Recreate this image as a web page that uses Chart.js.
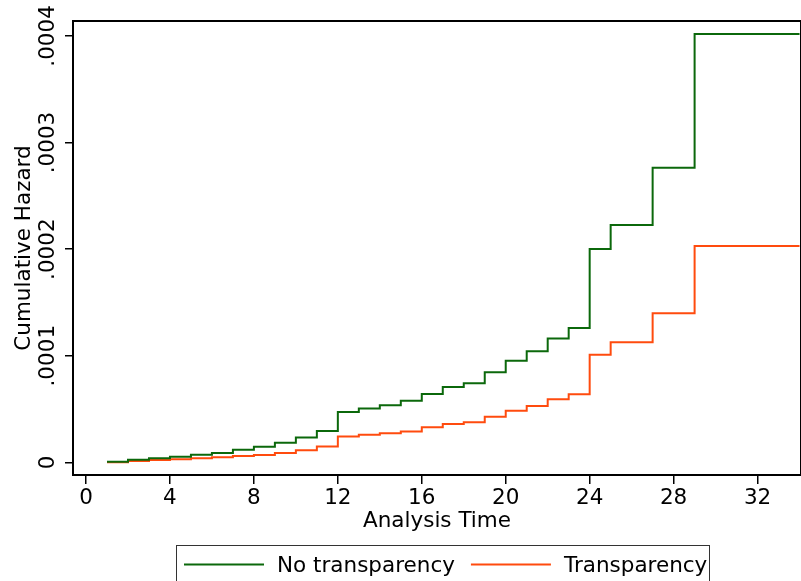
<!DOCTYPE html>
<html>
<head>
<meta charset="utf-8">
<script src="https://cdn.jsdelivr.net/npm/chart.js@4.4.1/dist/chart.umd.min.js"></script>
<style>
    html, body { margin: 0; padding: 0; background: #fff; }
    #wrap { width: 801px; height: 581px; }
</style>
</head>
<body>
<div id="wrap"><canvas id="hazardChart" width="801" height="581"></canvas></div>
<script>
// Nelson-Aalen cumulative hazard, step at each failure time
const times = [1, 2, 3, 4, 5, 6, 7, 8, 9, 10, 11, 12, 13, 14, 15, 16, 17, 18, 19, 20,
    21, 22, 23, 24, 25, 27, 29, 34];

const noTransparency = [0.0000005, 0.0000025, 0.0000037, 0.0000053, 0.0000071, 0.0000087,
    0.0000117, 0.0000146, 0.0000183, 0.0000232, 0.0000294, 0.0000471, 0.0000505, 0.0000535,
    0.0000578, 0.0000641, 0.0000706, 0.0000741, 0.0000844, 0.0000953, 0.0001041, 0.0001161,
    0.0001261, 0.0002001, 0.0002226, 0.0002764, 0.0004018, 0.0004018];

const transparency = [0, 0.0000012, 0.0000021, 0.0000028, 0.0000037, 0.0000047,
    0.0000059, 0.0000068, 0.0000087, 0.0000114, 0.0000148, 0.0000242, 0.0000258, 0.0000272,
    0.000029, 0.0000328, 0.0000359, 0.0000375, 0.0000428, 0.0000484, 0.0000528, 0.0000591,
    0.0000638, 0.000101, 0.0001127, 0.0001398, 0.0002029, 0.0002029];

const seriesLabels = ["No transparency", "Transparency"];
const xTicks = [0, 4, 8, 12, 16, 20, 24, 28, 32];
const yTicks = [0, 0.0001, 0.0002, 0.0003, 0.0004];
const yTickLabels = ["0", ".0001", ".0002", ".0003", ".0004"];

const FONT = "DejaVu Sans";
const fontSize = 21.5;

function toPoints(values) {
    return times.map((t, i) => ({ x: t, y: values[i] }));
}

// frame, rotated y labels and the boxed legend underneath
const stataDecor = {
    id: "stataDecor",
    afterDraw(chart) {
        const ctx = chart.ctx;
        const area = chart.chartArea;
        const yScale = chart.scales.y;

        ctx.save();
        ctx.strokeStyle = "#000";
        ctx.lineWidth = 2;
        ctx.beginPath();
        ctx.moveTo(area.left, area.top);
        ctx.lineTo(area.right, area.top);
        ctx.lineTo(area.right, area.bottom);
        ctx.stroke();

        ctx.fillStyle = "#000";
        ctx.font = fontSize + "px '" + FONT + "'";
        ctx.textAlign = "center";
        ctx.textBaseline = "alphabetic";
        yTicks.forEach((v, i) => {
            const y = yScale.getPixelForValue(v);
            ctx.save();
            ctx.translate(yScale.right - 19.5, y);
            ctx.rotate(-Math.PI / 2);
            ctx.fillText(yTickLabels[i], 0, 0);
            ctx.restore();
        });

        // legend
        ctx.lineWidth = 1;
        ctx.strokeStyle = "#333";
        ctx.strokeRect(176.5, 545.5, 533, 60);

        let x = 184;
        const lineY = 564.5;
        ctx.textAlign = "left";
        chart.data.datasets.forEach(ds => {
            ctx.strokeStyle = ds.borderColor;
            ctx.lineWidth = 2;
            ctx.beginPath();
            ctx.moveTo(x, lineY);
            ctx.lineTo(x + 80, lineY);
            ctx.stroke();
            ctx.fillStyle = "#000";
            ctx.fillText(ds.label, x + 93, 572);
            x += 93 + ctx.measureText(ds.label).width + 16;
        });
        ctx.restore();
    }
};

new Chart(document.getElementById("hazardChart"), {
    type: "line",
    data: {
        datasets: [{
            label: seriesLabels[0],
            data: toPoints(noTransparency),
            borderColor: "#0b680b",
            borderWidth: 2,
            stepped: "before",
            pointRadius: 0,
            fill: false
        }, {
            label: seriesLabels[1],
            data: toPoints(transparency),
            borderColor: "#ff4b0e",
            borderWidth: 2,
            stepped: "before",
            pointRadius: 0,
            fill: false
        }]
    },
    options: {
        responsive: false,
        animation: false,
        devicePixelRatio: 1,
        layout: { padding: { top: 21, right: 0, bottom: 47, left: 0 } },
        plugins: {
            legend: { display: false },
            tooltip: { enabled: false }
        },
        scales: {
            x: {
                type: "linear",
                min: -0.62,
                max: 34.07,
                afterBuildTicks: s => { s.ticks = xTicks.map(v => ({ value: v })); },
                afterFit: s => { s.height = 59; },
                ticks: {
                    color: "#000",
                    font: { family: FONT, size: fontSize },
                    padding: 2,
                    maxRotation: 0,
                    autoSkip: false
                },
                grid: {
                    drawOnChartArea: false,
                    drawTicks: true,
                    tickLength: 9,
                    color: "#000",
                    lineWidth: 1.5
                },
                border: { display: true, color: "#000", width: 2 },
                title: {
                    display: true,
                    text: "Analysis Time",
                    color: "#000",
                    font: { family: FONT, size: fontSize },
                    padding: 0
                }
            },
            y: {
                type: "linear",
                min: -0.0000119,
                max: 0.000414,
                afterBuildTicks: s => { s.ticks = yTicks.map(v => ({ value: v })); },
                afterFit: s => { s.width = 73; },
                ticks: { display: false },
                grid: {
                    drawOnChartArea: false,
                    drawTicks: true,
                    tickLength: 8,
                    color: "#000",
                    lineWidth: 1.5
                },
                border: { display: true, color: "#000", width: 2 },
                title: {
                    display: true,
                    text: "Cumulative Hazard",
                    color: "#000",
                    font: { family: FONT, size: fontSize },
                    padding: { top: 12, bottom: 0 }
                }
            }
        }
    },
    plugins: [stataDecor]
});
</script>
</body>
</html>
